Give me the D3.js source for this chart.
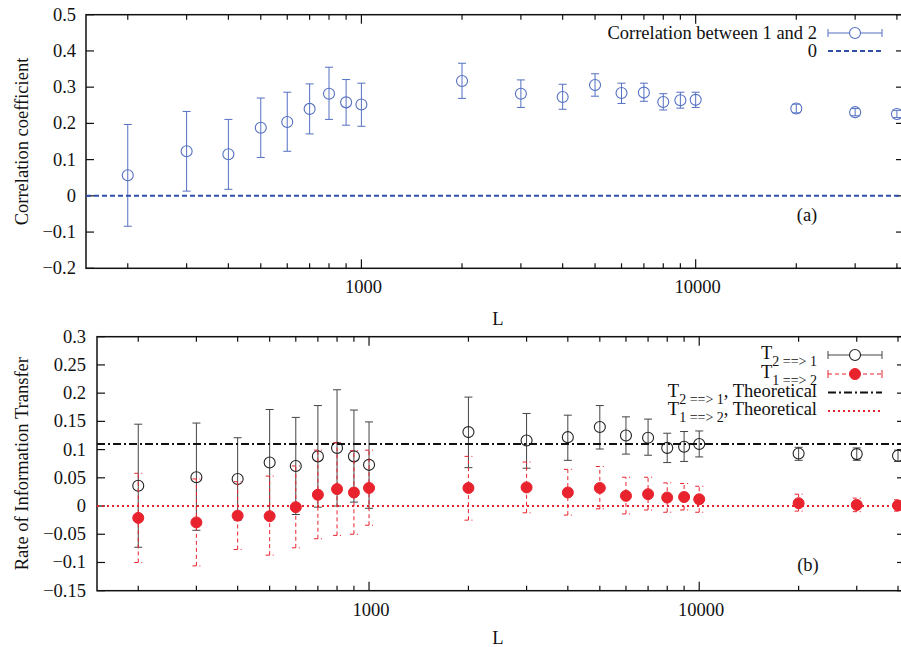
<!DOCTYPE html>
<html>
<head>
<meta charset="utf-8">
<script src="https://cdn.jsdelivr.net/npm/d3@7"></script>
<style>
  body { margin: 0; background: white; }
  svg { display: block; overflow: hidden; }
  text { font-family: "Liberation Serif", "Times New Roman", serif; fill: #111; }
</style>
</head>
<body>
<svg id="chart" width="901" height="647"></svg>
<script>
// sequence lengths L
const L = [200, 300, 400, 500, 600, 700, 800, 900, 1000, 2000, 3000, 4000, 5000, 6000, 7000, 8000, 9000, 10000, 20000, 30000, 40000];

// panel (a): correlation between 1 and 2
const corr   = [0.057, 0.123, 0.115, 0.188, 0.204, 0.240, 0.282, 0.258, 0.252, 0.317, 0.282, 0.273, 0.306, 0.284, 0.285, 0.259, 0.264, 0.265, 0.241, 0.231, 0.226];
const corrLo = [-0.084, 0.013, 0.018, 0.106, 0.123, 0.171, 0.211, 0.195, 0.192, 0.269, 0.244, 0.239, 0.275, 0.255, 0.261, 0.237, 0.242, 0.244, 0.229, 0.221, 0.216];
const corrHi = [0.197, 0.233, 0.211, 0.270, 0.286, 0.309, 0.355, 0.321, 0.311, 0.366, 0.320, 0.308, 0.337, 0.311, 0.311, 0.282, 0.286, 0.286, 0.253, 0.241, 0.236];

// panel (b): transfer rates
const t21   = [0.036, 0.051, 0.048, 0.077, 0.071, 0.088, 0.103, 0.088, 0.073, 0.131, 0.116, 0.122, 0.140, 0.125, 0.121, 0.103, 0.105, 0.110, 0.093, 0.092, 0.089];
const t21Lo = [-0.073, -0.043, -0.025, -0.017, -0.015, -0.002, 0.000, 0.007, -0.004, 0.068, 0.067, 0.081, 0.101, 0.092, 0.090, 0.077, 0.079, 0.087, 0.081, 0.081, 0.079];
const t21Hi = [0.145, 0.147, 0.121, 0.171, 0.157, 0.178, 0.206, 0.170, 0.149, 0.193, 0.164, 0.161, 0.178, 0.158, 0.154, 0.129, 0.132, 0.133, 0.104, 0.103, 0.099];
const t12   = [-0.021, -0.029, -0.017, -0.018, -0.002, 0.020, 0.030, 0.024, 0.032, 0.032, 0.033, 0.024, 0.032, 0.018, 0.021, 0.015, 0.016, 0.012, 0.005, 0.002, 0.001];
const t12Lo = [-0.100, -0.106, -0.077, -0.087, -0.074, -0.058, -0.052, -0.050, -0.034, -0.025, -0.012, -0.016, -0.005, -0.014, -0.007, -0.011, -0.007, -0.011, -0.009, -0.010, -0.009];
const t12Hi = [0.058, 0.048, 0.043, 0.053, 0.071, 0.099, 0.112, 0.098, 0.099, 0.088, 0.078, 0.065, 0.070, 0.051, 0.051, 0.041, 0.040, 0.035, 0.021, 0.014, 0.011];
const theoT21 = 0.11;
const theoT12 = 0;

// ticks
const xMinorTicks = [200, 300, 400, 500, 600, 700, 800, 900, 2000, 3000, 4000, 5000, 6000, 7000, 8000, 9000, 20000, 30000, 40000];
const xMajorTicks = [1000, 10000];
const yTicksA = [-0.2, -0.1, 0, 0.1, 0.2, 0.3, 0.4, 0.5];
const yTicksB = [-0.15, -0.1, -0.05, 0, 0.05, 0.1, 0.15, 0.2, 0.25, 0.3];

const BLUE = "#5470c2";
const BLUE_DARK = "#2f4fa8";
const RED = "#e8232e";
const FS = "18.5px";

const svg = d3.select("#chart");

//draws frame, ticks and labels of one panel, returns scales
function drawFrame(x0, x1, y0, y1, yDomain, yTicks, yLabel, yLabelX, tickLabelX, labelY, lLabelY) {
    const x = d3.scaleLog().domain([150, 42000]).range([x0, x1]);
    const y = d3.scaleLinear().domain(yDomain).range([y1, y0]);
    const g = svg.append("g");

    // y ticks left and right (inward)
    yTicks.forEach(t => {
        g.append("line").attr("x1", x0).attr("x2", x0 + 8).attr("y1", y(t)).attr("y2", y(t))
            .attr("stroke", "#111").attr("stroke-width", 1.2);
        g.append("line").attr("x1", x1).attr("x2", x1 - 8).attr("y1", y(t)).attr("y2", y(t))
            .attr("stroke", "#111").attr("stroke-width", 1.2);
        g.append("text").attr("x", tickLabelX).attr("y", y(t))
            .attr("text-anchor", "end").attr("dominant-baseline", "central")
            .style("font-size", FS).text(d3.format("")(+t.toFixed(2)));
    });

    // x ticks bottom and top
    xMinorTicks.forEach(t => {
        g.append("line").attr("x1", x(t)).attr("x2", x(t)).attr("y1", y1).attr("y2", y1 - 5)
            .attr("stroke", "#111").attr("stroke-width", 1.2);
        g.append("line").attr("x1", x(t)).attr("x2", x(t)).attr("y1", y0).attr("y2", y0 + 5)
            .attr("stroke", "#111").attr("stroke-width", 1.2);
    });
    xMajorTicks.forEach(t => {
        g.append("line").attr("x1", x(t)).attr("x2", x(t)).attr("y1", y1).attr("y2", y1 - 9)
            .attr("stroke", "#111").attr("stroke-width", 1.2);
        g.append("line").attr("x1", x(t)).attr("x2", x(t)).attr("y1", y0).attr("y2", y0 + 9)
            .attr("stroke", "#111").attr("stroke-width", 1.2);
        g.append("text").attr("x", x(t) + 2).attr("y", labelY)
            .attr("text-anchor", "middle").attr("dominant-baseline", "central")
            .style("font-size", FS).text(t);
    });

    g.append("rect").attr("x", x0).attr("y", y0).attr("width", x1 - x0).attr("height", y1 - y0)
        .attr("fill", "none").attr("stroke", "#111").attr("stroke-width", 1.5);

    // axis labels
    g.append("text").attr("x", 498).attr("y", lLabelY)
        .attr("text-anchor", "middle").attr("dominant-baseline", "central")
        .style("font-size", FS).text("L");
    g.append("text")
        .attr("transform", `translate(${yLabelX},${(y0 + y1) / 2}) rotate(-90)`)
        .attr("text-anchor", "middle").attr("dominant-baseline", "central")
        .style("font-size", FS).text(yLabel);

    return { x, y };
}

//error bars with caps
function errorBars(g, x, y, vals, lo, hi, color, dash) {
    const rows = L.map((l, i) => ({ l, v: vals[i], lo: lo[i], hi: hi[i] }));
    const eb = g.append("g").attr("stroke", color).attr("stroke-width", 1)
        .attr("stroke-dasharray", dash || null);
    eb.selectAll("line.v").data(rows).enter().append("line").attr("class", "v")
        .attr("x1", d => x(d.l)).attr("x2", d => x(d.l))
        .attr("y1", d => y(d.lo)).attr("y2", d => y(d.hi));
    eb.selectAll("line.lo").data(rows).enter().append("line").attr("class", "lo")
        .attr("x1", d => x(d.l) - 4).attr("x2", d => x(d.l) + 4)
        .attr("y1", d => y(d.lo)).attr("y2", d => y(d.lo));
    eb.selectAll("line.hi").data(rows).enter().append("line").attr("class", "hi")
        .attr("x1", d => x(d.l) - 4).attr("x2", d => x(d.l) + 4)
        .attr("y1", d => y(d.hi)).attr("y2", d => y(d.hi));
    return rows;
}

// ---------- panel (a) ----------
const A = drawFrame(86, 904, 14.7, 268.3, [-0.2, 0.5], yTicksA, "Correlation coefficient", 22, 76, 287, 319);
const gA = svg.append("g");
const rowsA = errorBars(gA, A.x, A.y, corr, corrLo, corrHi, BLUE);
gA.selectAll("circle").data(rowsA).enter().append("circle")
    .attr("cx", d => A.x(d.l)).attr("cy", d => A.y(d.v)).attr("r", 5.5)
    .attr("fill", "none").attr("stroke", BLUE).attr("stroke-width", 1.1);
gA.append("line").attr("x1", 86).attr("x2", 904).attr("y1", A.y(0)).attr("y2", A.y(0))
    .attr("stroke", BLUE_DARK).attr("stroke-width", 2).attr("stroke-dasharray", "5,3");

// legend (a)
const legA = svg.append("g");
legA.append("text").attr("x", 817).attr("y", 33).attr("text-anchor", "end")
    .attr("dominant-baseline", "central").style("font-size", FS).text("Correlation between 1 and 2");
legA.append("line").attr("x1", 828).attr("x2", 882).attr("y1", 33).attr("y2", 33).attr("stroke", BLUE);
legA.append("line").attr("x1", 828).attr("x2", 828).attr("y1", 29).attr("y2", 37).attr("stroke", BLUE);
legA.append("line").attr("x1", 882).attr("x2", 882).attr("y1", 29).attr("y2", 37).attr("stroke", BLUE);
legA.append("circle").attr("cx", 855).attr("cy", 33).attr("r", 5.5).attr("fill", "white")
    .attr("stroke", BLUE).attr("stroke-width", 1.1);
legA.append("text").attr("x", 817).attr("y", 51).attr("text-anchor", "end")
    .attr("dominant-baseline", "central").style("font-size", FS).text("0");
legA.append("line").attr("x1", 828).attr("x2", 882).attr("y1", 51).attr("y2", 51)
    .attr("stroke", BLUE_DARK).attr("stroke-width", 2).attr("stroke-dasharray", "5,3");
svg.append("text").attr("x", 807).attr("y", 215).attr("text-anchor", "middle")
    .attr("dominant-baseline", "central").style("font-size", FS).text("(a)");

// ---------- panel (b) ----------
const B = drawFrame(97, 905, 336.7, 590.7, [-0.15, 0.3], yTicksB, "Rate of Information Transfer", 22, 86, 610, 638);
const gB = svg.append("g");
const rows21 = errorBars(gB, B.x, B.y, t21, t21Lo, t21Hi, "#444");
gB.selectAll("circle.t21").data(rows21).enter().append("circle").attr("class", "t21")
    .attr("cx", d => B.x(d.l)).attr("cy", d => B.y(d.v)).attr("r", 5.5)
    .attr("fill", "none").attr("stroke", "#222").attr("stroke-width", 1.1);
const rows12 = errorBars(gB, B.x, B.y, t12, t12Lo, t12Hi, RED, "4,3");
gB.selectAll("circle.t12").data(rows12).enter().append("circle").attr("class", "t12")
    .attr("cx", d => B.x(d.l)).attr("cy", d => B.y(d.v)).attr("r", 5.5)
    .attr("fill", RED).attr("stroke", RED);
gB.append("line").attr("x1", 97).attr("x2", 905).attr("y1", B.y(theoT21)).attr("y2", B.y(theoT21))
    .attr("stroke", "#111").attr("stroke-width", 2).attr("stroke-dasharray", "8,3,2,3");
gB.append("line").attr("x1", 97).attr("x2", 905).attr("y1", B.y(theoT12)).attr("y2", B.y(theoT12))
    .attr("stroke", RED).attr("stroke-width", 2).attr("stroke-dasharray", "2,3");

// legend (b)
const legB = svg.append("g");
const legRows = [
    { sub: "2 ==> 1", extra: "", y: 355 },
    { sub: "1 ==> 2", extra: "", y: 374 },
    { sub: "2 ==> 1", extra: ", Theoretical", y: 392.5 },
    { sub: "1 ==> 2", extra: ", Theoretical", y: 411 }
];
legRows.forEach(r => {
    const t = legB.append("text").attr("x", 817).attr("y", r.y + 4).attr("text-anchor", "end")
        .style("font-size", FS);
    t.append("tspan").text("T");
    t.append("tspan").attr("dy", 7).style("font-size", "14px").text(r.sub);
    if (r.extra) t.append("tspan").attr("dy", -7).text(r.extra);
});
// sample marks
legB.append("line").attr("x1", 828).attr("x2", 882).attr("y1", 355).attr("y2", 355).attr("stroke", "#444");
legB.append("line").attr("x1", 828).attr("x2", 828).attr("y1", 351).attr("y2", 359).attr("stroke", "#444");
legB.append("line").attr("x1", 882).attr("x2", 882).attr("y1", 351).attr("y2", 359).attr("stroke", "#444");
legB.append("circle").attr("cx", 855).attr("cy", 355).attr("r", 5.5).attr("fill", "white")
    .attr("stroke", "#222").attr("stroke-width", 1.1);
legB.append("line").attr("x1", 828).attr("x2", 882).attr("y1", 374).attr("y2", 374)
    .attr("stroke", RED).attr("stroke-dasharray", "4,3");
legB.append("line").attr("x1", 828).attr("x2", 828).attr("y1", 370).attr("y2", 378).attr("stroke", RED);
legB.append("line").attr("x1", 882).attr("x2", 882).attr("y1", 370).attr("y2", 378).attr("stroke", RED);
legB.append("circle").attr("cx", 855).attr("cy", 374).attr("r", 5.5).attr("fill", RED).attr("stroke", RED);
legB.append("line").attr("x1", 828).attr("x2", 882).attr("y1", 392.5).attr("y2", 392.5)
    .attr("stroke", "#111").attr("stroke-width", 2).attr("stroke-dasharray", "8,3,2,3");
legB.append("line").attr("x1", 828).attr("x2", 882).attr("y1", 411).attr("y2", 411)
    .attr("stroke", RED).attr("stroke-width", 2).attr("stroke-dasharray", "2,3");
svg.append("text").attr("x", 808).attr("y", 565).attr("text-anchor", "middle")
    .attr("dominant-baseline", "central").style("font-size", FS).text("(b)");
</script>
</body>
</html>
